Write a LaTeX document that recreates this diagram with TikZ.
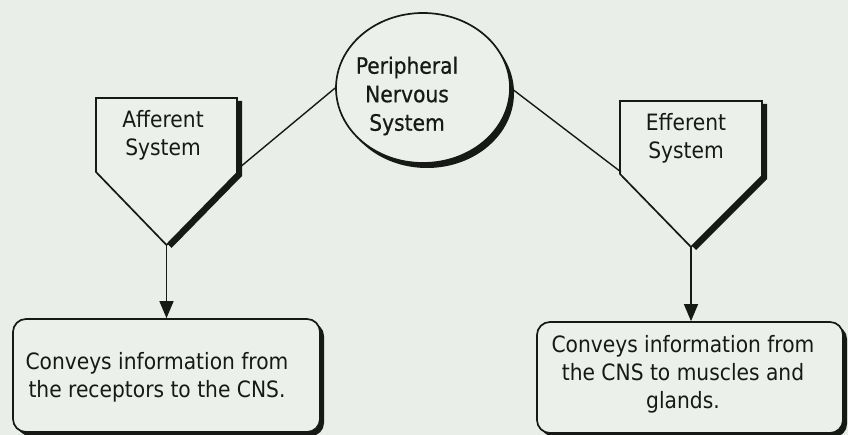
\documentclass[tikz,border=0pt]{standalone}
\usepackage{fontspec}
\setmainfont{DejaVu Sans Condensed}
\newfontfamily\pnsfont[FakeBold=0.6]{DejaVu Sans Condensed}
\usetikzlibrary{arrows.meta,shapes.geometric}
\definecolor{bg}{RGB}{233,238,232}
\definecolor{boxbg}{RGB}{236,240,235}
\definecolor{ink}{RGB}{22,25,22}
\begin{document}
\begin{tikzpicture}[x=1pt,y=-1pt,
  txt/.style={align=center, inner sep=0pt, text=ink, font=\fontsize{22.5}{28}\selectfont},
  outline/.style={draw=ink, line width=1.7pt, fill=boxbg},
  conn/.style={draw=ink, line width=1.4pt},
  arr/.style={conn, -{Triangle[length=17pt,width=14pt]}},
  infobox/.style={outline, rounded corners=13pt, inner sep=0pt},
  shadowfill/.style={fill=ink}
]
\fill[bg] (0,0) rectangle (848,435);
\useasboundingbox (0,0) rectangle (848,435);

% central ellipse
\fill[shadowfill] (427,93) ellipse [x radius=87, y radius=75];
\node[ellipse, outline, inner sep=0pt, minimum width=174, minimum height=150] (pns) at (423,88) {};
\node[txt, font=\pnsfont\fontsize{22.5}{28.5}\selectfont] (pnstext) at (407,96) {Peripheral\\Nervous\\System};

% afferent pentagon
\fill[shadowfill] (101,101) -- (242,101) -- (242,176) -- (171.5,248) -- (101,175) -- cycle;
\draw[outline] (96,98) -- (237,98) -- (237,173) -- (166.5,245) -- (96,172) -- cycle;
\coordinate (aTip) at (166.5,245);
\coordinate (aHit) at (239,168);
\node[txt] (afftext) at (163,135) {Afferent\\System};

% efferent pentagon
\fill[shadowfill] (625,104) -- (767,104) -- (767,179) -- (696,250) -- (625,177) -- cycle;
\draw[outline] (620,101) -- (762,101) -- (762,176) -- (691,247) -- (620,174) -- cycle;
\coordinate (eTip) at (691,247);
\coordinate (eHit) at (621,172);
\node[txt] (efftext) at (686,138) {Efferent\\System};

% connectors from the ellipse
\draw[conn] (pns.west) -- (aHit);
\draw[conn] (pns.east) -- (eHit);

% information boxes
\fill[shadowfill, rounded corners=13pt] (17,323) rectangle (324,436);
\node[infobox, minimum width=307, minimum height=113] (box1) at (166.5,375.5) {};
\node[txt] (box1text) at (157,377) {Conveys information from\\the receptors to the CNS.};

\fill[shadowfill, rounded corners=13pt] (541,326) rectangle (847,437);
\node[infobox, minimum width=306, minimum height=111] (box2) at (690,377.5) {};
\node[txt] (box2text) at (683,374) {Conveys information from\\the CNS to muscles and\\glands.};

% arrows
\draw[arr] (aTip) -- (aTip |- box1.north);
\draw[arr] (eTip) -- (eTip |- box2.north);
\end{tikzpicture}
\end{document}
